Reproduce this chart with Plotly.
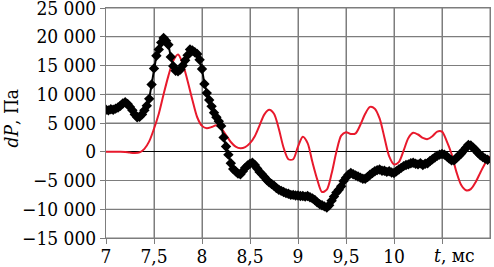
import numpy as np
import plotly.graph_objects as go

# Black series (measured), t step 0.025 ms from 7.0
black_t = [round(7.0 + 0.025 * i, 3) for i in range(160)]
black_p = [
    7300, 7200, 7400, 7300, 7500, 7700, 8000, 8400, 8600, 8300,
    7800, 7200, 6500, 6000, 6100, 6500, 7200, 8000, 9200, 11700,
    14500, 16700, 17800, 19000, 19800, 19300, 18600, 16500, 14900, 14100,
    14000, 14300, 15000, 15900, 16800, 17800, 17600, 17300, 17000, 16000,
    14400, 11800, 10200, 9000, 7900, 6800, 6000, 5300, 4500, 2500,
    900, -500, -2000, -3000, -3400, -3800, -3900, -3400, -2800, -2400,
    -2100, -1900, -2300, -2900, -3500, -3900, -4400, -4900, -5300, -5600,
    -5900, -6300, -6600, -6800, -7000, -7200, -7300, -7500, -7500, -7600,
    -7600, -7700, -7700, -7800, -7700, -7900, -8100, -8400, -8800, -9100,
    -9300, -9500, -9700, -9300, -8500, -7800, -7100, -6600, -6000, -5100,
    -4500, -4000, -3700, -3900, -4100, -4300, -4500, -4700, -4700, -4400,
    -4000, -3700, -3400, -3200, -3100, -3300, -3300, -3500, -3400, -3600,
    -3700, -3400, -3100, -2800, -2500, -2300, -2200, -2000, -1900, -2100,
    -2200, -2000, -2300, -2100, -2000, -1600, -1300, -1000, -700, -500,
    -400, -500, -800, -1200, -1500, -1500, -1100, -700, -300, 200,
    700, 1200, 1100, 700, 300, -200, -600, -900, -1200, -1400,
]

# Red series (computed), t step 0.05 ms from 7.0
red_t = [round(7.0 + 0.05 * i, 2) for i in range(81)]
red_p = [
    0, 0, 0, 0, -50, -150, -200, -100, 500, 1800,
    4000, 6600, 10000, 13200, 15800, 16900, 15300, 12300, 9000, 6000,
    4500, 4100, 4300, 4600, 4100, 2900, 1700, 900, 600, 800,
    1500, 2700, 4600, 6500, 7300, 6600, 4000, 700, -1300, -1300,
    900, 2600, 1500, -1800, -4800, -7000, -6600, -3800, 0, 2800,
    3400, 3100, 3200, 4700, 6600, 7800, 7500, 5800, 2500, -800,
    -2200, -1800, 200, 2400, 3300, 3000, 2400, 2200, 2700, 3500,
    3500, 1800, -400, -3500, -5800, -6700, -6500, -5300, -3600, -2000,
    -800,
]

x_tickvals = [7, 7.5, 8, 8.5, 9, 9.5, 10, 10.5]
x_ticktext = ["7", "7,5", "8", "8,5", "9", "9,5", "10", ""]
y_tickvals = [25000, 20000, 15000, 10000, 5000, 0, -5000, -10000, -15000]
y_ticktext = ["25 000", "20 000", "15 000", "10 000", "5 000", "0",
              "\u22125 000", "\u221210 000", "\u221215 000"]

FONT = "DejaVu Serif Condensed"
FSIZE = 19
GRID = "#7d7d7d"

fig = go.Figure()

# grid lines drawn at the tick positions
for xv in x_tickvals[1:] + [11]:
    fig.add_shape(type="line", xref="x", yref="paper", x0=xv, x1=xv, y0=0, y1=1,
                  line=dict(color=GRID, width=1), layer="below")
for yv in y_tickvals:
    if yv != 0:
        fig.add_shape(type="line", xref="paper", yref="y", x0=0, x1=1, y0=yv, y1=yv,
                      line=dict(color=GRID, width=1), layer="below")

fig.add_trace(go.Scatter(
    x=red_t, y=red_p, mode="lines",
    line=dict(color="#e8192c", width=2, shape="spline", smoothing=0.8),
    showlegend=False,
))
fig.add_trace(go.Scatter(
    x=black_t, y=black_p, mode="lines+markers",
    line=dict(color="black", width=2),
    marker=dict(symbol="diamond", size=8, color="black"),
    showlegend=False,
))

fig.update_layout(
    template="none",
    width=494, height=267,
    margin=dict(l=106, r=4, t=8, b=29, autoexpand=False),
    paper_bgcolor="white", plot_bgcolor="white",
    font=dict(family=FONT, size=FSIZE, color="black"),
    xaxis=dict(
        range=[7, 11], tickmode="array", tickvals=x_tickvals, ticktext=x_ticktext,
        showgrid=True, gridcolor=GRID, gridwidth=1,
        showline=True, linecolor=GRID, linewidth=1, mirror=True,
        ticks="outside", ticklen=5, tickcolor=GRID, tickwidth=1,
        zeroline=False, automargin=False, ticklabeloverflow="allow",
        ticklabelstandoff=-4,
        tickfont=dict(family=FONT, size=FSIZE, color="black"),
    ),
    yaxis=dict(
        range=[-15000, 25000], tickmode="array", tickvals=y_tickvals, ticktext=y_ticktext,
        showgrid=True, gridcolor=GRID, gridwidth=1,
        showline=True, linecolor=GRID, linewidth=1, mirror=True,
        ticks="outside", ticklen=5, tickcolor=GRID, tickwidth=1,
        zeroline=True, zerolinecolor="black", zerolinewidth=1,
        automargin=False, ticklabeloverflow="allow",
        tickfont=dict(family=FONT, size=FSIZE, color="black"),
    ),
    annotations=[
        dict(text="<i>dP</i>, Па", textangle=-90, xref="paper", yref="paper",
             x=-(106 - 11) / 384, y=0.52, xanchor="center", yanchor="middle",
             showarrow=False, font=dict(family=FONT, size=FSIZE)),
        dict(text="<i>t</i>, мс", xref="paper", yref="paper",
             x=(454 - 106) / 384, y=-(255 - 238) / 230, xanchor="center",
             yanchor="middle", showarrow=False, font=dict(family=FONT, size=FSIZE)),
    ],
)

fig.write_html(
    "out.html",
    config={"displayModeBar": False},
    post_script="document.body.style.margin='0';document.body.style.padding='0';",
)
